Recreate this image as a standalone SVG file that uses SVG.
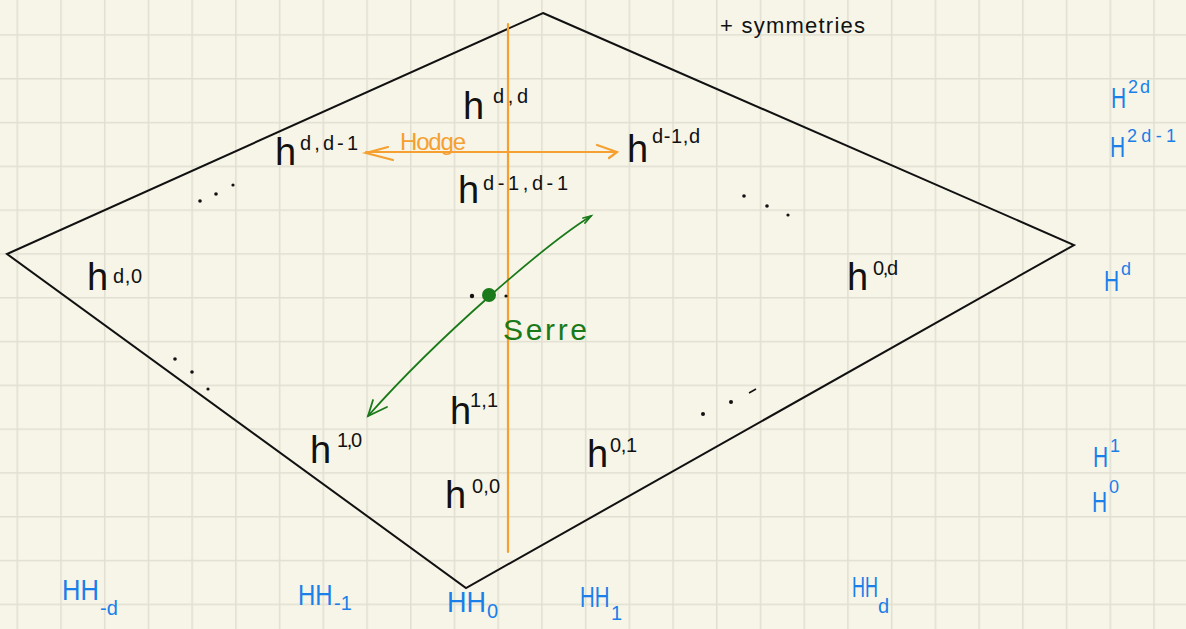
<svg xmlns="http://www.w3.org/2000/svg" width="1186" height="629" viewBox="0 0 1186 629">
  <style>
    .blk { font-family: "Liberation Sans", Arial, sans-serif; fill: #111; }
    .hb { font-size: 38px; }
    .sp { font-size: 20px; }
    .blue { font-family: "Liberation Sans", Arial, sans-serif; fill: #1a7fe8; }
    .Hb { font-size: 30px; }
    .sb { font-size: 18px; }
    .edge { fill: none; stroke: #111; stroke-width: 2; stroke-linejoin: miter; }
    .orange { stroke: #f5a030; stroke-width: 2.2; fill: none; stroke-linecap: round; }
    .green { stroke: #1a7a1a; stroke-width: 1.8; fill: none; stroke-linecap: round; }
    .dot { fill: #111; }
  </style>
  <defs>
    <pattern id="grid" patternUnits="userSpaceOnUse" x="16.5" y="34.2" width="43.72" height="43.8">
      <rect x="0" y="0" width="43.72" height="43.8" fill="#f7f5e8"/>
      <line x1="0" y1="0" x2="0" y2="43.8" stroke="#e1dfd1" stroke-width="3"/>
      <line x1="0" y1="0" x2="43.72" y2="0" stroke="#e1dfd1" stroke-width="3"/>
    </pattern>
  </defs>
  <rect x="0" y="0" width="1186" height="629" fill="url(#grid)"/>

  <g id="diamond">
    <polygon class="edge" points="543,13 1074,245 466,588 7,254"/>
  </g>

  <g id="connectors">
    <line class="orange" x1="508" y1="24" x2="508" y2="552"/>
    <line class="orange" x1="366" y1="152" x2="616" y2="152"/>
    <polyline class="orange" points="388,147 366,153 393,160"/>
    <polyline class="orange" points="597,145 617,152 609,158"/>
    <path class="green" d="M 591 216 C 545 245, 440 335, 368 416"/>
    <polyline class="green" points="387,407 368,416 373,400"/>
    <polyline class="green" points="583,218 591,216 585,223"/>
    <circle cx="489" cy="295" r="7" fill="#1a7a1a"/>
  </g>

  <g id="dots">
    <circle class="dot" cx="472" cy="296" r="2.2"/>
    <circle class="dot" cx="506" cy="296" r="1.6"/>
    <circle class="dot" cx="200" cy="201" r="1.8"/>
    <circle class="dot" cx="216" cy="194" r="1.8"/>
    <circle class="dot" cx="233" cy="185" r="1.6"/>
    <circle class="dot" cx="175" cy="359" r="1.8"/>
    <circle class="dot" cx="192" cy="372" r="1.8"/>
    <circle class="dot" cx="208" cy="389" r="1.6"/>
    <circle class="dot" cx="744" cy="196" r="1.8"/>
    <circle class="dot" cx="767" cy="206" r="1.8"/>
    <circle class="dot" cx="788" cy="215" r="1.6"/>
    <circle class="dot" cx="703" cy="414" r="2"/>
    <circle class="dot" cx="731" cy="402" r="2"/>
    <line x1="749" y1="393" x2="756" y2="389" stroke="#111" stroke-width="1.6"/>
  </g>

  <g id="h-dd"><text class="blk hb" x="463" y="119">h</text><text class="blk sp" x="493" y="103" textLength="35">d,d</text></g>
  <g id="h-d-dm1"><text class="blk hb" x="275" y="165">h</text><text class="blk sp" x="300" y="150" textLength="58">d,d-1</text></g>
  <g id="h-dm1-d"><text class="blk hb" x="627" y="162">h</text><text class="blk sp" x="652" y="143" textLength="48">d-1,d</text></g>
  <g id="h-dm1-dm1"><text class="blk hb" x="458" y="203">h</text><text class="blk sp" x="483" y="190" textLength="85">d-1,d-1</text></g>
  <g id="h-d0"><text class="blk hb" x="87" y="290">h</text><text class="blk sp" x="113" y="283" textLength="29">d,0</text></g>
  <g id="h-0d"><text class="blk hb" x="847" y="290">h</text><text class="blk sp" x="873" y="275" textLength="25">0,d</text></g>
  <g id="h-11"><text class="blk hb" x="450" y="424">h</text><text class="blk sp" x="470" y="407" textLength="28">1,1</text></g>
  <g id="h-10"><text class="blk hb" x="310" y="463">h</text><text class="blk sp" x="337" y="447" textLength="25">1,0</text></g>
  <g id="h-01"><text class="blk hb" x="587" y="467">h</text><text class="blk sp" x="610" y="452" textLength="27">0,1</text></g>
  <g id="h-00"><text class="blk hb" x="445" y="508">h</text><text class="blk sp" x="472" y="493" textLength="28">0,0</text></g>

  <g id="symmetries"><text class="blk" x="720" y="33" font-size="22" textLength="145">+ symmetries</text></g>

  <g id="hodge-label"><text x="400" y="150" font-family="Liberation Sans, Arial, sans-serif" font-size="24" fill="#f5a030" textLength="66">Hodge</text></g>
  <g id="serre-label"><text x="503" y="340" font-family="Liberation Sans, Arial, sans-serif" font-size="30" fill="#1a7a1a" textLength="84">Serre</text></g>

  <g id="H-2d"><text class="blue Hb" transform="translate(1111,108) scale(0.7,1)">H</text><text class="blue sb" x="1128" y="93" textLength="22">2d</text></g>
  <g id="H-2dm1"><text class="blue Hb" transform="translate(1110,157) scale(0.7,1)">H</text><text class="blue sb" x="1127" y="142" textLength="49">2d-1</text></g>
  <g id="H-d"><text class="blue Hb" transform="translate(1104,291) scale(0.7,1)">H</text><text class="blue sb" x="1121" y="275">d</text></g>
  <g id="H-1"><text class="blue Hb" transform="translate(1093,467) scale(0.7,1)">H</text><text class="blue sb" x="1110" y="452">1</text></g>
  <g id="H-0"><text class="blue Hb" transform="translate(1092,512) scale(0.7,1)">H</text><text class="blue sb" x="1109" y="493">0</text></g>

  <g id="HH-md"><text class="blue Hb" transform="translate(62,600) scale(0.85,1)">HH</text><text class="blue sp" x="100" y="615">-d</text></g>
  <g id="HH-m1"><text class="blue Hb" transform="translate(298,605) scale(0.8,1)">HH</text><text class="blue sp" x="334" y="610">-1</text></g>
  <g id="HH-0"><text class="blue Hb" transform="translate(447,612) scale(0.9,1)">HH</text><text class="blue sp" x="487" y="618">0</text></g>
  <g id="HH-1"><text class="blue Hb" transform="translate(580,607) scale(0.68,1)">HH</text><text class="blue sp" x="611" y="620">1</text></g>
  <g id="HH-d"><text class="blue Hb" transform="translate(852,597) scale(0.6,1)">HH</text><text class="blue sp" x="878" y="613">d</text></g>
</svg>
